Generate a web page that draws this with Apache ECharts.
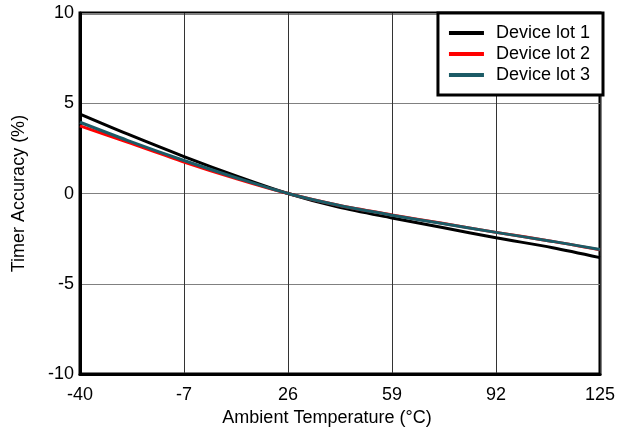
<!DOCTYPE html>
<html lang="en">
<head>
    <meta charset="UTF-8">
    <title>Timer Accuracy vs Temperature</title>
    <script src="https://cdn.jsdelivr.net/npm/echarts@6/dist/echarts.min.js"></script>
    <style>
        html, body { margin: 0; padding: 0; background: #fff; }
    </style>
</head>
<body>
<div id="main" style="width:618px;height:432px;"></div>
<script>
    var temps = [-40, -25, -7, 10, 26, 42, 59, 75, 92, 110, 125];
    var lot1 = [4.4, 3.3, 2.05, 0.95, 0, -0.75, -1.35, -1.88, -2.45, -3.0, -3.55];
    var lot2 = [3.75, 2.85, 1.75, 0.8, 0, -0.65, -1.18, -1.65, -2.15, -2.65, -3.12];
    var lot3 = [3.95, 2.95, 1.83, 0.85, 0, -0.65, -1.2, -1.66, -2.15, -2.65, -3.1];
    var xTicks = [-40, -7, 26, 59, 92, 125];
    var seriesNames = ['Device lot 1', 'Device lot 2', 'Device lot 3'];
    var colors = ['#000000', '#ff0000', '#1c5b66'];

    // x axis is shifted by +40 so ticks start at 0 (interval 33)
    var X_OFFSET = 40;
    function toPoints(vals) {
        var pts = [];
        for (var i = 0; i < temps.length; i++) {
            pts.push([temps[i] + X_OFFSET, vals[i]]);
        }
        return pts;
    }

    var font = 'Liberation Sans, Arial, sans-serif';
    var chart = echarts.init(document.getElementById('main'));
    var allData = [lot1, lot2, lot3];
    var series = [];
    for (var s = 0; s < allData.length; s++) {
        series.push({
            name: seriesNames[s],
            type: 'line',
            data: toPoints(allData[s]),
            smooth: 0.3,
            showSymbol: false,
            lineStyle: { color: colors[s], width: 3 },
            itemStyle: { color: colors[s] }
        });
    }

    chart.setOption({
        animation: false,
        grid: {
            left: 80, right: 15, top: 13, bottom: 57,
            show: true, borderColor: '#000', borderWidth: 3
        },
        legend: {
            orient: 'vertical',
            right: 15, top: 13,
            padding: [11, 13, 11, 11],
            backgroundColor: '#fff',
            borderColor: '#000',
            borderWidth: 3,
            borderRadius: 0,
            itemWidth: 35,
            itemHeight: 4,
            itemGap: 3,
            icon: 'rect',
            textStyle: { fontFamily: font, fontSize: 18, color: '#000', lineHeight: 18, padding: [0, 0, 0, 7] },
            data: seriesNames
        },
        xAxis: {
            type: 'value',
            min: 0,
            max: 165,
            interval: 33,
            name: 'Ambient Temperature (°C)',
            nameLocation: 'middle',
            nameGap: 29,
            nameTextStyle: { fontFamily: font, fontSize: 18, color: '#000', padding: [0, 26, 0, 0] },
            axisLine: { onZero: false, lineStyle: { color: '#000', width: 3 } },
            axisTick: { show: false },
            axisLabel: {
                fontFamily: font, fontSize: 18, color: '#000', margin: 12,
                formatter: function (v) {
                    var t = Math.round(v - X_OFFSET);
                    return xTicks.indexOf(t) >= 0 ? String(t) : '';
                }
            },
            splitLine: { show: true, lineStyle: { color: '#333', width: 1 } }
        },
        yAxis: {
            type: 'value',
            min: -10,
            max: 10,
            interval: 5,
            name: 'Timer Accuracy (%)',
            nameLocation: 'middle',
            nameGap: 52,
            nameTextStyle: { fontFamily: font, fontSize: 18, color: '#000' },
            axisLine: { onZero: false, lineStyle: { color: '#000', width: 3 } },
            axisTick: { show: false },
            axisLabel: { fontFamily: font, fontSize: 18, color: '#000', margin: 6 },
            splitLine: { show: true, lineStyle: { color: '#808080', width: 1 } }
        },
        series: series
    });
</script>
</body>
</html>
